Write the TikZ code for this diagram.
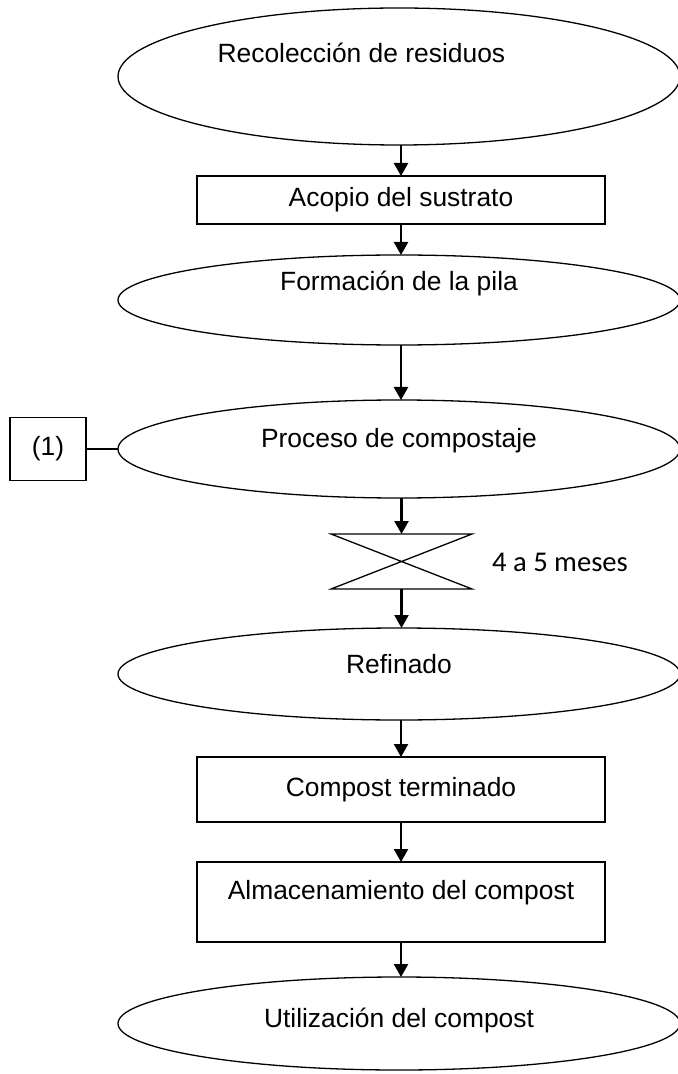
\documentclass[tikz,border=0pt]{standalone}
\usepackage{fontspec}
\setmainfont{Liberation Sans}
\newfontfamily\calibrifont{Carlito}
\usetikzlibrary{shapes.geometric,arrows.meta}

\begin{document}
\begin{tikzpicture}[x=0.5pt, y=-0.5pt,
        font=\fontsize{13.2}{16}\selectfont,
        etapa/.style={ellipse, draw, line width=0.65pt, inner sep=0pt, outer sep=0pt, minimum width=281pt},
        caja/.style={rectangle, draw, line width=0.65pt, inner sep=0pt, outer sep=0pt, minimum width=204pt},
        flecha/.style={line width=1.2pt, -{Triangle[length=6.5pt, width=7pt]}}]
        % Fix the page size
        \useasboundingbox (0, 0) rectangle (678, 1074);

        % The stages, from top to bottom
        \node[etapa, minimum height=68.5pt, label={[xshift=-18.8pt, yshift=12pt]center:Recolección de residuos}] (recoleccion) at (399, 76.5) {};
        \node[caja, minimum height=24pt] (acopio) at (401, 200) {Acopio del sustrato};
        \node[etapa, minimum height=45pt, label={[yshift=8pt]center:Formación de la pila}] (pila) at (399, 300) {};
        \node[etapa, minimum height=49pt, label={[yshift=4pt]center:Proceso de compostaje}] (compostaje) at (399, 449) {};
        \node[rectangle, draw, line width=0.65pt, minimum width=38pt, minimum height=31.5pt, inner sep=0pt] (nota) at (48, 449) {(1)};

        % Waiting time (hourglass)
        \node[rectangle, minimum width=70.5pt, minimum height=27.5pt, inner sep=0pt, outer sep=0pt] (espera) at (401.5, 561.5) {};
        \draw[line width=0.65pt] (espera.north west) -- (espera.north east) -- (espera.south west) -- (espera.south east) -- cycle;
        \node[font=\calibrifont\fontsize{14.3}{17}\selectfont] (tiempo) at (560, 562) {4 a 5 meses};

        \node[etapa, minimum height=46pt, label={[yshift=5pt]center:Refinado}] (refinado) at (399, 674) {};
        \node[caja, minimum height=32.5pt] (terminado) at (401, 789.5) {Compost terminado};
        \node[caja, minimum height=40pt, label={[yshift=4.5pt]center:Almacenamiento del compost}] (almacen) at (401, 902) {};
        \node[etapa, minimum height=46.5pt, label={[yshift=1.5pt]center:Utilización del compost}] (uso) at (399, 1023.5) {};

        % Connect the stages
        \draw[flecha] (recoleccion.south -| acopio.north) -- (acopio.north);
        \draw[flecha] (acopio.south) -- (acopio.south |- pila.north);
        \draw[flecha] (pila.south -| acopio.south) -- (acopio.south |- compostaje.north);
        \draw[flecha] (compostaje.south -| espera.north) -- (espera.north);
        \draw[flecha] (espera.south) -- (espera.south |- refinado.north);
        \draw[flecha] (refinado.south -| terminado.north) -- (terminado.north);
        \draw[flecha] (terminado.south) -- (almacen.north);
        \draw[flecha] (almacen.south) -- (almacen.south |- uso.north);
        \draw[line width=0.65pt] (nota.east) -- (compostaje.west);
    \end{tikzpicture}
\end{document}
